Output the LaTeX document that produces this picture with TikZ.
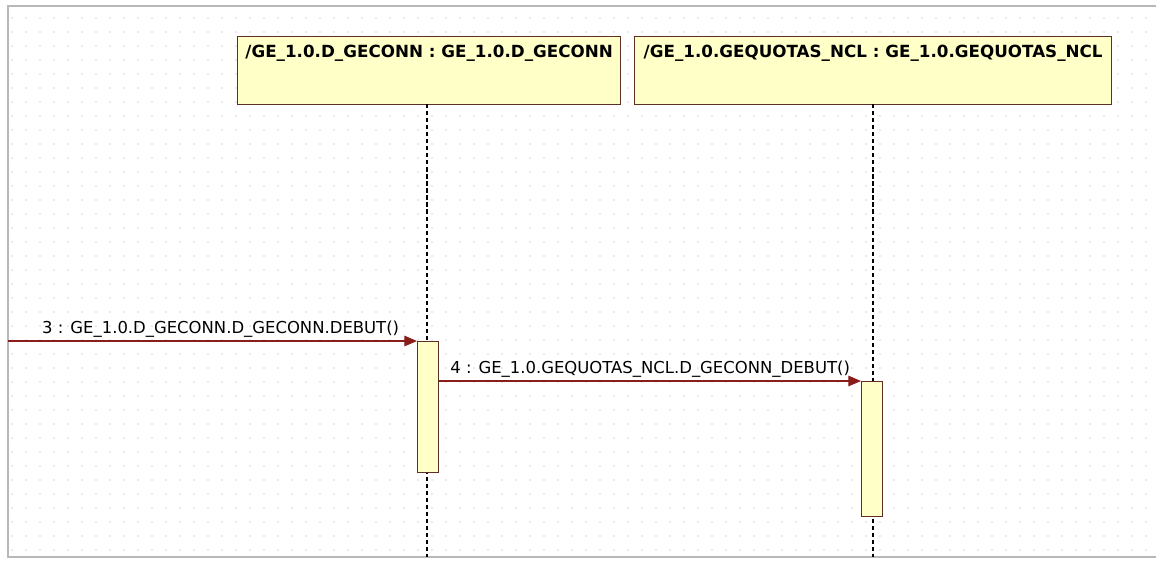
\documentclass[tikz,border=0pt]{standalone}
\usepackage{fontspec}
\setmainfont{DejaVu Sans}
\usetikzlibrary{arrows,arrows.meta,positioning}
\definecolor{boxfill}{HTML}{FFFFC8}
\definecolor{boxline}{HTML}{5E2F25}
\definecolor{msgline}{HTML}{8A1C1C}
\definecolor{framegray}{HTML}{B8B8B8}

\begin{document}
\begin{tikzpicture}
		[x=0.025cm,y=-0.025cm,
		obj node/.style={shape=rectangle,draw=boxline,fill=boxfill,line width=0.9pt,anchor=north west,inner sep=0pt,minimum height=68*0.025cm},
		obj text/.style={anchor=north,font=\fontsize{11.9}{13}\selectfont\bfseries,inner sep=0pt,yshift=-9*0.025cm},
		act node/.style={shape=rectangle,draw=boxline,fill=boxfill,line width=0.9pt,anchor=north west,inner sep=0pt,minimum width=21*0.025cm},
		life line/.style={draw=black,line width=0.8pt,dash pattern=on 3pt off 2pt},
		msg/.style={draw=msgline,line width=0.9pt,-{Triangle[length=9pt,width=7.5pt]}},
		msg text/.style={font=\fontsize{11.7}{13}\selectfont,inner sep=2pt}
		]
		
		\useasboundingbox (0,0) rectangle (1156,562);
		
		% dotted grid
		\foreach \gx in {12,26,...,1150}
			\foreach \gy in {18,32,...,552}
				\fill[gray!22] (\gx,\gy) circle (1.1);
		
		% frame
		\draw[framegray,line width=1pt] (1156,6) -- (8,6) -- (8,557) -- (1156,557);
		\coordinate (bottom) at (0,557);
		
		\node [obj node,minimum width=383*0.025cm,label={[obj text]north:/GE\_1.0.D\_GECONN : GE\_1.0.D\_GECONN}] (conn) at (237,36) {};
		\node [obj node,minimum width=477*0.025cm,label={[obj text]north:/GE\_1.0.GEQUOTAS\_NCL : GE\_1.0.GEQUOTAS\_NCL}] (quotas) at (634,36) {};
		
		\coordinate (conn life) at (427,104);
		\coordinate (quotas life) at (873,104);
		\draw[life line] (conn life) -- (conn life |- bottom);
		\draw[life line] (quotas life) -- (quotas life |- bottom);
		
		\node [act node,minimum height=131*0.025cm] (act1) at (417,341) {};
		\node [act node,minimum height=135*0.025cm] (act2) at (861,381) {};
		
		\coordinate (caller) at (8,341);
		
		\path[]
		(caller) edge[msg] node[msg text,above,pos=0.52] {3 : GE\_1.0.D\_GECONN.D\_GECONN.DEBUT()} (act1.north west)
		
		(act1.east |- act2.north) edge[msg] node[msg text,above] {4 : GE\_1.0.GEQUOTAS\_NCL.D\_GECONN\_DEBUT()} (act2.north west)
		
		;
		
\end{tikzpicture}
\end{document}
